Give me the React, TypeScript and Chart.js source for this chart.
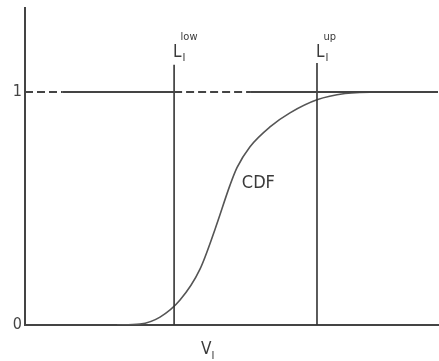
import React, { useEffect, useRef } from "react";
import { Chart, registerables } from "chart.js";

Chart.register(...registerables);

// CDF curve (x in arbitrary units 0..100, y probability)
const cdfX = [22.3, 27.85, 32.69, 37.53, 42.37, 46.0, 49.64, 51.33, 54.48, 59.32, 64.16, 70.7, 77.48, 85.96, 97.3];
const cdfY = [0, 0.004, 0.034, 0.107, 0.24, 0.41, 0.6, 0.675, 0.765, 0.85, 0.91, 0.966, 0.993, 1.0, 1.0];

// limit lines
const limitNames = ["low", "up"];
const limitX = [36.1, 70.7];
const limitTop = [1.116, 1.124];

// reference line at probability 1 (alternating dashed / solid pieces)
const refX = [0, 9, 36.1, 54.5, 100];
const refY = [1, 1, 1, 1, 1];

const yTickValues = [0, 1];
const xMin = 0;
const xMax = 100;
const yMax = 1.36;
const xLabelAt = 42.6;
const cdfLabelAt = [52.5, 0.588];

const FONT = '"DejaVu Sans Condensed", "Liberation Sans Narrow", "DejaVu Sans", sans-serif';
const INK = "#3a3a3a";

const textPlugin = {
  id: "textLabels",
  afterDraw(chart: any) {
    const ctx = chart.ctx;
    const xs = chart.scales.x;
    const ys = chart.scales.y;
    ctx.save();
    ctx.fillStyle = INK;
    ctx.textBaseline = "alphabetic";
    // L labels
    limitX.forEach((lx, i) => {
      const px = xs.getPixelForValue(lx);
      ctx.font = `17px ${FONT}`;
      ctx.textAlign = "left";
      ctx.fillText("L", px - 1, 57);
      const lw = ctx.measureText("L").width;
      ctx.font = `11px ${FONT}`;
      ctx.fillText("I", px - 1 + lw + 1, 61);
      ctx.fillText(limitNames[i], px - 1 + lw - 1, 40);
    });
    // CDF label
    ctx.font = `18px ${FONT}`;
    ctx.textAlign = "left";
    ctx.fillText("CDF", xs.getPixelForValue(cdfLabelAt[0]), ys.getPixelForValue(cdfLabelAt[1]));
    // axis label V_I
    const vx = xs.getPixelForValue(xLabelAt);
    ctx.font = `17px ${FONT}`;
    ctx.fillText("V", vx, 354);
    const vw = ctx.measureText("V").width;
    ctx.font = `11px ${FONT}`;
    ctx.fillText("I", vx + vw, 359);
    ctx.restore();
  },
};

export default function App() {
  const ref = useRef<HTMLCanvasElement | null>(null);
  useEffect(() => {
    document.body.style.margin = "0";
    const canvas = ref.current;
    if (!canvas) return;
    const datasets: any[] = [
      {
        data: refX.map((x, i) => ({ x, y: refY[i] })),
        borderColor: "#444",
        borderWidth: 2,
        pointRadius: 0,
        segment: {
          borderDash: (c: any) => (c.p0DataIndex % 2 === 0 ? [8, 4] : []),
        },
      },
      ...limitX.map((lx, i) => ({
        data: [
          { x: lx, y: 0 },
          { x: lx, y: limitTop[i] },
        ],
        borderColor: "#333",
        borderWidth: 1.6,
        pointRadius: 0,
      })),
      {
        data: cdfX.map((x, i) => ({ x, y: cdfY[i] })),
        borderColor: "#555",
        borderWidth: 1.6,
        pointRadius: 0,
        cubicInterpolationMode: "monotone",
      },
    ];
    const chart = new Chart(canvas, {
      type: "line",
      data: { datasets },
      options: {
        animation: false,
        responsive: false,
        layout: { padding: { top: 8, right: 1, left: 0, bottom: 0 } },
        plugins: { legend: { display: false }, tooltip: { enabled: false } },
        scales: {
          x: {
            type: "linear",
            min: xMin,
            max: xMax,
            grid: { display: false, drawTicks: false },
            border: { display: true, color: "#444", width: 2 },
            ticks: { display: false },
            afterFit: (s: any) => {
              s.height = 36;
              s.paddingLeft = 0;
              s.paddingRight = 0;
            },
          },
          y: {
            type: "linear",
            min: 0,
            max: yMax,
            grid: { display: false, drawTicks: false },
            border: { display: true, color: "#444", width: 2 },
            ticks: {
              color: "#444",
              padding: 3,
              font: { size: 16, family: FONT },
            },
            afterBuildTicks: (s: any) => {
              s.ticks = yTickValues.map((v) => ({ value: v }));
            },
            afterFit: (s: any) => {
              s.width = 25;
              s.paddingTop = 0;
              s.paddingBottom = 0;
            },
          },
        },
      },
      plugins: [textPlugin],
    } as any);
    return () => chart.destroy();
  }, []);
  return <canvas ref={ref} width={439} height={361} style={{ display: "block" }} />;
}
